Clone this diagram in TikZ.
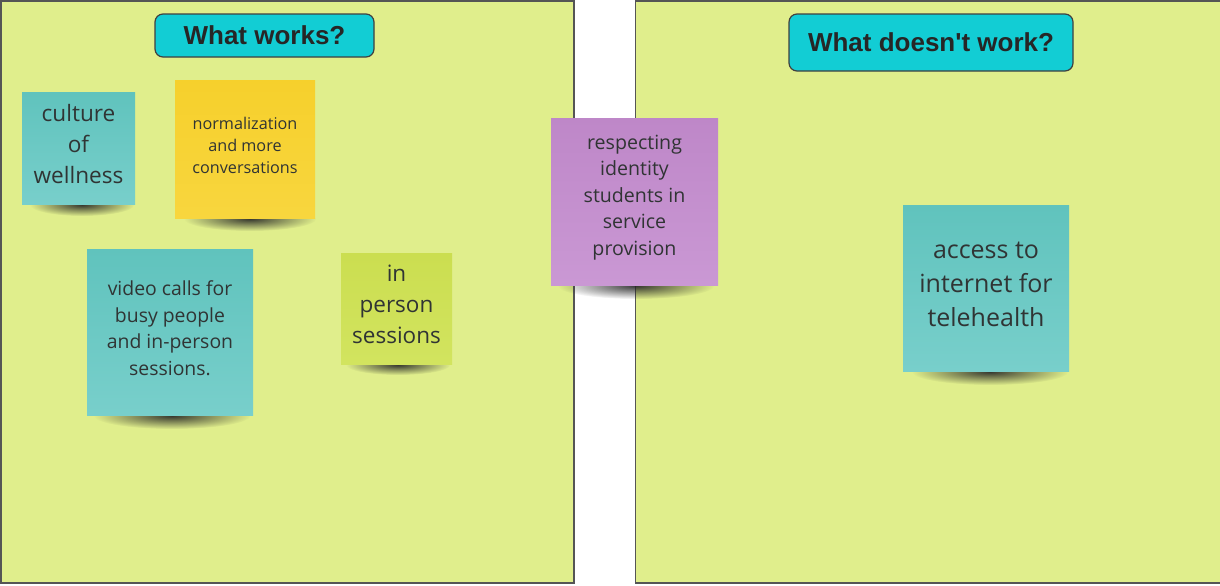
\documentclass[tikz,border=0pt]{standalone}
\usepackage{fontspec}
\setmainfont{Open Sans}
\newfontfamily\titlefont{Liberation Sans}
\usetikzlibrary{fadings}
\definecolor{panelbg}{RGB}{224,238,140}
\definecolor{panelline}{RGB}{85,85,85}
\definecolor{titlecyan}{RGB}{18,205,212}
\definecolor{tealtop}{RGB}{96,195,189}
\definecolor{tealbot}{RGB}{120,207,203}
\definecolor{yeltop}{RGB}{246,208,44}
\definecolor{yelbot}{RGB}{248,214,62}
\definecolor{limetop}{RGB}{203,222,80}
\definecolor{limebot}{RGB}{210,228,95}
\definecolor{purtop}{RGB}{190,135,200}
\definecolor{purbot}{RGB}{202,152,212}
\definecolor{inktext}{RGB}{48,52,52}
\tikzfading[name=softshadow, inner color=transparent!10, outer color=transparent!100]
\tikzset{
  panel/.style={draw=panelline, line width=0.7pt, fill=panelbg, rectangle, inner sep=0pt},
  titlebox/.style={draw=black!75, line width=0.6pt, fill=titlecyan, rounded corners=4pt,
    inner sep=0pt, font=\titlefont\bfseries\fontsize{13}{15}\selectfont, text=black!85},
  sticky/.style={rectangle, inner sep=0pt},
  stickytext/.style={inner sep=0pt, align=center, text=inktext, yshift=2pt},
  shadowblob/.style={fill=black!85, path fading=softshadow}
}
\begin{document}
\begin{tikzpicture}[x=0.5pt,y=-0.5pt]
\useasboundingbox (0,0) rectangle (1220,585);
% panels
\node[panel, minimum width=286.5pt, minimum height=291pt] (leftpanel) at (287.5,292) {};
\fill[panelbg] (635.5,1) rectangle (1220,583);
\draw[panelline, line width=0.7pt] (1220,1) -- (635.5,1) -- (635.5,583) -- (1220,583);
\coordinate (rightpanel) at (927,292);
% titles
\node[titlebox, minimum width=109.5pt, minimum height=21.5pt] (t1) at (264.5,35.5) {What works?};
\node[titlebox, minimum width=142pt, minimum height=28.5pt] (t2) at (931,42.5) {What doesn't work?};
% shadows
\fill[shadowblob] (82,205) ellipse (52 and 11);
\fill[shadowblob] (250,219) ellipse (66 and 12);
\fill[shadowblob] (172,416) ellipse (78 and 13);
\fill[shadowblob] (398,365) ellipse (52 and 10);
\fill[shadowblob] (636,286) ellipse (78 and 13);
\fill[shadowblob] (990,372) ellipse (78 and 13);
% stickies
\node[sticky, top color=tealtop, bottom color=tealbot, minimum width=56.5pt, minimum height=56pt] (cw) at (78.5,148) {};
\node[stickytext, font=\fontsize{11.3}{15.5}\selectfont] (cwtext) at (cw) {culture\\of\\wellness};
\node[sticky, top color=yeltop, bottom color=yelbot, minimum width=70pt, minimum height=69pt] (norm) at (245,149) {};
\node[stickytext, font=\fontsize{8.1}{11}\selectfont] (normtext) at (norm) {normalization\\and more\\conversations};
\node[sticky, top color=tealtop, bottom color=tealbot, minimum width=83pt, minimum height=83pt] (video) at (170,332) {};
\node[stickytext, font=\fontsize{9.7}{13.25}\selectfont] (videotext) at (video) {video calls for\\busy people\\and in-person\\sessions.};
\node[sticky, top color=limetop, bottom color=limebot, minimum width=55.5pt, minimum height=55.5pt] (inperson) at (396.5,308.5) {};
\node[stickytext, font=\fontsize{11.25}{15.5}\selectfont] (inpersontext) at (inperson) {in\\person\\sessions};
\node[sticky, top color=purtop, bottom color=purbot, minimum width=83.5pt, minimum height=83.5pt] (resp) at (634.5,201.5) {};
\node[stickytext, font=\fontsize{9.8}{13.2}\selectfont] (resptext) at (resp) {respecting\\identity\\students in\\service\\provision};
\node[sticky, top color=tealtop, bottom color=tealbot, minimum width=83pt, minimum height=83pt] (access) at (986,288) {};
\node[stickytext, font=\fontsize{12.5}{17}\selectfont] (accesstext) at (access) {access to\\internet for\\telehealth};
\end{tikzpicture}
\end{document}
